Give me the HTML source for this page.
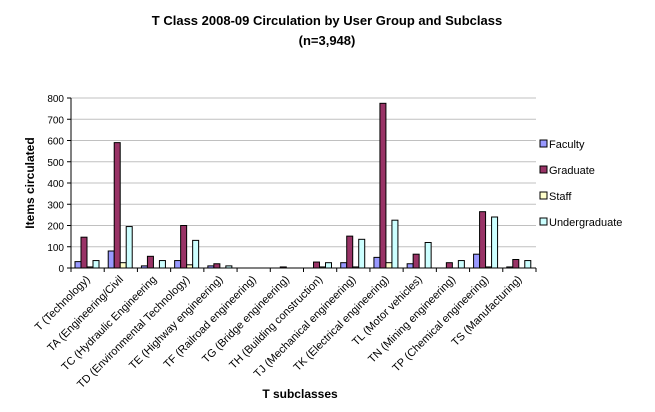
<!DOCTYPE html>
<html><head><meta charset="utf-8"><style>
body{margin:0;background:#fff;font-family:"Liberation Sans",Arial,sans-serif}
</style></head><body>
<svg id="c" width="655" height="407" xmlns="http://www.w3.org/2000/svg" font-family="Liberation Sans, Arial, sans-serif">
<text x="327" y="25" text-anchor="middle" font-size="13" font-weight="bold">T Class 2008-09 Circulation by User Group and Subclass</text>
<text x="327" y="45" text-anchor="middle" font-size="13" font-weight="bold">(n=3,948)</text>
<text transform="translate(34,183) rotate(-90)" text-anchor="middle" font-size="12" font-weight="bold">Items circulated</text>
<text x="300" y="398" text-anchor="middle" font-size="12" font-weight="bold">T subclasses</text>
<g id="grid"></g><g id="bars"></g><g id="axes"></g><g id="legend"></g>
</svg>
<script>
const categories=["T (Technology)","TA (Engineering/Civil","TC (Hydraulic Engineering","TD (Environmental Technology)","TE (Highway engineering)","TF (Railroad engineering)","TG (Bridge engineering)","TH (Building construction)","TJ (Mechanical engineering)","TK (Electrical engineering)","TL (Motor vehicles)","TN (Mining engineering)","TP (Chemical engineering)","TS (Manufacturing)"];
const faculty=[30,80,10,35,10,0,0,0,25,50,20,0,65,5];
const graduate=[145,590,55,200,20,0,5,28,150,775,65,25,265,40];
const staff=[5,25,0,15,0,0,0,5,5,25,0,0,5,0];
const undergraduate=[35,195,35,130,10,0,0,25,135,225,120,35,240,35];
const yTicks=[0,100,200,300,400,500,600,700,800];
const seriesNames=["Faculty","Graduate","Staff","Undergraduate"];
const ns="http://www.w3.org/2000/svg";
const X0=71,X1=536,Y0=268,Y1=98,YMAX=800;
const colors=["#9999ff","#993366","#ffffcc","#ccffff"];
const series=[faculty,graduate,staff,undergraduate];
const y=v=>Y0-(v/YMAX)*(Y0-Y1);
const bw=(X1-X0)/categories.length;
const x=i=>X0+i*bw;
function mk(t,a,p){const e=document.createElementNS(ns,t);for(const k in a)e.setAttribute(k,a[k]);p.appendChild(e);return e;}
const grid=document.getElementById('grid'),bars=document.getElementById('bars'),axes=document.getElementById('axes'),leg=document.getElementById('legend');
yTicks.forEach(t=>{
 if(t>0){const g=mk('line',{x1:X0,x2:X1,y1:y(t),y2:y(t),stroke:'#c0c0c0','stroke-width':1},grid);
 
 }
 const l=mk('text',{x:X0-7,y:y(t)+4,'text-anchor':'end','font-size':10},axes);l.textContent=t;
 
 
 mk('line',{x1:X0-4,x2:X0,y1:y(t),y2:y(t),stroke:'#000'},axes);
});
mk('line',{x1:X0,x2:X0,y1:Y1,y2:Y0,stroke:'#000'},axes);
mk('line',{x1:X0,x2:X1,y1:Y0,y2:Y0,stroke:'#000'},axes);
const w=6;
categories.forEach((c,i)=>{
 mk('line',{x1:x(i),x2:x(i),y1:Y0,y2:Y0+4,stroke:'#000'},axes);
 series.forEach((s,j)=>{
  const v=s[i];const bx=x(i)+4+j*w;
  if(v<=0)return;
  const r=mk('rect',{x:bx,y:y(v),width:w,height:Y0-y(v),fill:colors[j],stroke:'#000','stroke-width':1},bars);
  
  
 });
 const cx=x(i)+bw/2+3;
 const t=mk('text',{x:cx,y:Y0+12,'text-anchor':'end','font-size':11,transform:`rotate(-45 ${cx} ${Y0+12})`},axes);
 t.textContent=c;
 
 
});
mk('line',{x1:X1,x2:X1,y1:Y0,y2:Y0+4,stroke:'#000'},axes);
seriesNames.forEach((n,j)=>{
 const ly=144+j*26;
 const g=mk('g',{},leg);
 
 
 mk('rect',{x:540,y:ly-4,width:7,height:7,fill:colors[j],stroke:'#000'},g);
 const t=mk('text',{x:549,y:ly+4,'font-size':11},g);t.textContent=n;
});
</script>
</body></html>
